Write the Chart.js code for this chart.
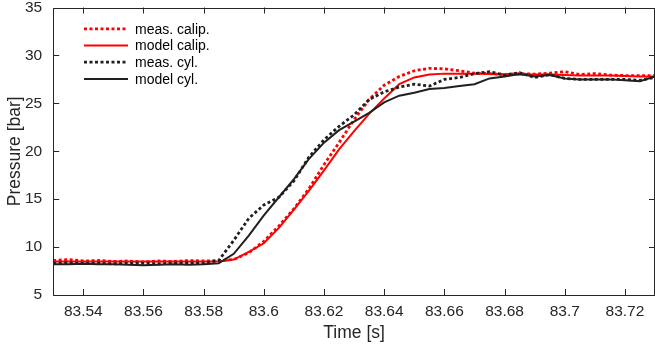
<!DOCTYPE html>
<html><head><meta charset="utf-8">
<script src="https://cdn.jsdelivr.net/npm/chart.js@4/dist/chart.umd.min.js"></script>
<style>html,body{margin:0;padding:0;background:#fff;}#wrap{width:655px;height:347px;position:relative;}</style>
</head><body><div id="wrap"><canvas id="c" width="655" height="347"></canvas></div>
<script>
const times = [83.53,83.535,83.54,83.545,83.55,83.555,83.56,83.565,83.57,83.575,
  83.58,83.585,83.59,83.595,83.6,83.605,83.61,83.615,83.62,83.625,
  83.63,83.635,83.64,83.645,83.65,83.655,83.66,83.665,83.67,83.675,
  83.68,83.685,83.69,83.695,83.7,83.705,83.71,83.715,83.72,83.725,83.73];
const measCalip = [8.6,8.7,8.55,8.6,8.5,8.55,8.45,8.55,8.5,8.6,
  8.55,8.6,8.7,9.4,10.6,12.2,14.0,16.1,18.6,20.9,
  23.3,25.4,26.9,27.8,28.4,28.65,28.6,28.4,28.15,28.1,
  28.0,28.1,28.05,28.15,28.3,28.0,28.1,27.95,27.9,27.9,27.9];
const modelCalip = [8.5,8.5,8.5,8.5,8.5,8.5,8.5,8.5,8.5,8.5,
  8.5,8.5,8.7,9.5,10.4,12.0,13.9,15.9,18.0,20.2,
  22.1,23.9,25.5,27.0,27.7,28.0,28.1,28.1,28.1,28.05,
  28.0,28.0,28.0,28.0,27.95,27.9,27.9,27.9,27.85,27.8,27.8];
const measCyl = [8.3,8.35,8.3,8.3,8.25,8.3,8.3,8.25,8.3,8.35,
  8.3,8.6,10.7,13.0,14.4,15.2,16.9,19.4,21.2,22.6,
  23.8,25.4,26.2,26.7,27.0,26.8,27.5,27.7,28.1,28.3,
  27.95,28.2,27.7,28.0,27.6,27.5,27.5,27.5,27.5,27.4,27.7];
const modelCyl = [8.2,8.2,8.25,8.2,8.2,8.15,8.1,8.15,8.2,8.15,
  8.2,8.3,9.3,11.2,13.3,15.2,17.1,19.2,20.9,22.2,
  23.1,24.0,25.1,25.8,26.1,26.5,26.6,26.8,27.0,27.6,
  27.8,28.05,27.8,27.95,27.6,27.5,27.5,27.5,27.4,27.3,27.8];
const seriesLabels = ['meas. calip.','model calip.','meas. cyl.','model cyl.'];
const xTicks = [83.54,83.56,83.58,83.6,83.62,83.64,83.66,83.68,83.7,83.72];
const xTickLabels = ['83.54','83.56','83.58','83.6','83.62','83.64','83.66','83.68','83.7','83.72'];
const yTicks = [5,10,15,20,25,30,35];
const xTitle = 'Time [s]';
const yTitle = 'Pressure [bar]';

const AX = '#262626';
const FAMILY = "'Liberation Sans', Arial, Helvetica, sans-serif";
Chart.defaults.font.family = FAMILY;
Chart.defaults.color = AX;

const toPts = arr => times.map((t, i) => ({x: t, y: arr[i]}));
const RED = '#ff0000', BLK = '#202020';
const DOT = [3, 2.5];

const boxPlugin = {
  id: 'box',
  afterDatasetsDraw(chart) {
    const {ctx, chartArea: a, scales: {x, y}} = chart;
    ctx.save();
    ctx.strokeStyle = AX;
    ctx.lineWidth = 1;
    ctx.setLineDash([]);
    ctx.beginPath();
    xTicks.forEach(v => {
      const px = Math.round(x.getPixelForValue(v)) + 0.5;
      ctx.moveTo(px, a.bottom); ctx.lineTo(px, a.bottom - 6);
      ctx.moveTo(px, a.top); ctx.lineTo(px, a.top + 6);
    });
    yTicks.forEach(v => {
      const py = Math.round(y.getPixelForValue(v)) + 0.5;
      ctx.moveTo(a.left, py); ctx.lineTo(a.left + 6, py);
      ctx.moveTo(a.right, py); ctx.lineTo(a.right - 6, py);
    });
    ctx.stroke();
    ctx.beginPath();
    const l = Math.round(a.left) + 0.5, t = Math.round(a.top) + 0.5;
    const r = Math.round(a.right) - 0.5, b = Math.round(a.bottom) + 0.5;
    ctx.moveTo(l, t); ctx.lineTo(r, t); ctx.lineTo(r, b); ctx.lineTo(l, b); ctx.closePath();
    ctx.stroke();
    ctx.restore();
  }
};

const legendPlugin = {
  id: 'mlegend',
  afterDraw(chart) {
    const {ctx} = chart;
    ctx.save();
    chart.data.datasets.forEach((ds, i) => {
      const yy = 28.8 + i * 16.7;
      ctx.strokeStyle = ds.borderColor;
      ctx.lineWidth = ds.borderWidth;
      ctx.setLineDash(ds.borderDash || []);
      ctx.beginPath();
      ctx.moveTo(84, yy); ctx.lineTo(128, yy);
      ctx.stroke();
      ctx.setLineDash([]);
      ctx.fillStyle = '#000';
      ctx.font = '14px ' + FAMILY;
      ctx.textBaseline = 'middle';
      ctx.textAlign = 'left';
      ctx.fillText(ds.label, 135, yy + 1);
    });
    ctx.restore();
  }
};

new Chart(document.getElementById('c'), {
  type: 'line',
  data: {
    datasets: [
      {label: seriesLabels[0], data: toPts(measCalip), borderColor: RED, borderWidth: 2.8, borderDash: DOT, order: 4},
      {label: seriesLabels[1], data: toPts(modelCalip), borderColor: RED, borderWidth: 2, order: 3},
      {label: seriesLabels[2], data: toPts(measCyl), borderColor: BLK, borderWidth: 2.8, borderDash: DOT, order: 2},
      {label: seriesLabels[3], data: toPts(modelCyl), borderColor: BLK, borderWidth: 2, order: 1}
    ]
  },
  options: {
    responsive: false,
    animation: false,
    devicePixelRatio: 1,
    layout: {padding: {top: 7.5, right: 0, left: 0, bottom: 0}},
    elements: {point: {radius: 0, hoverRadius: 0}, line: {tension: 0, fill: false}},
    plugins: {legend: {display: false}, tooltip: {enabled: false}},
    scales: {
      x: {
        type: 'linear', min: 83.53, max: 83.73,
        afterBuildTicks: s => { s.ticks = xTicks.map(v => ({value: v})); },
        afterFit: s => { s.height = 52; s.paddingLeft = 0; s.paddingRight = 0; },
        ticks: {callback: (v, i) => xTickLabels[i], font: {size: 15.5}, color: AX, padding: 7, maxRotation: 0, autoSkip: false},
        grid: {display: false, drawTicks: false},
        border: {display: false},
        title: {display: true, text: xTitle, font: {size: 17.5}, color: AX, padding: {top: 0, bottom: 3.5}}
      },
      y: {
        type: 'linear', min: 5, max: 35,
        afterBuildTicks: s => { s.ticks = yTicks.map(v => ({value: v})); },
        afterFit: s => { s.width = 53.2; s.paddingTop = 0; s.paddingBottom = 0; },
        ticks: {callback: v => String(v), font: {size: 15.5}, color: AX, padding: 11, autoSkip: false},
        grid: {display: false, drawTicks: false},
        border: {display: false},
        title: {display: true, text: yTitle, font: {size: 17.5}, color: AX, padding: {top: 4.5, bottom: 0}}
      }
    }
  },
  plugins: [boxPlugin, legendPlugin]
});
</script></body></html>
